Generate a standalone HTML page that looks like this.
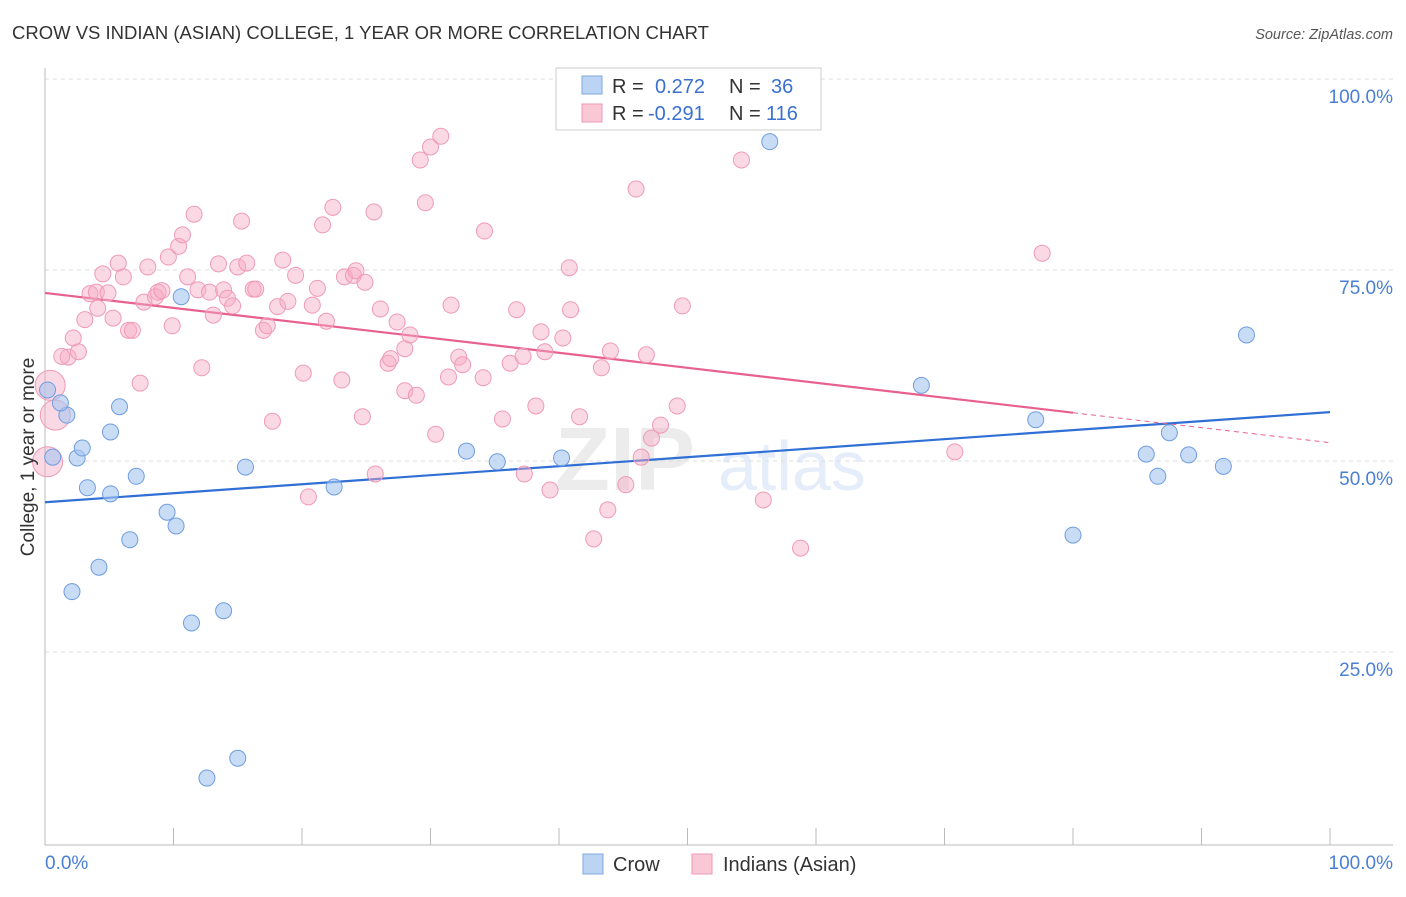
<!DOCTYPE html>
<html><head><meta charset="utf-8"><style>
body{margin:0;background:#fff;font-family:"Liberation Sans",sans-serif;}
svg text{font-family:"Liberation Sans",sans-serif;}
</style></head><body>
<svg id="chart" width="1406" height="892" xmlns="http://www.w3.org/2000/svg">
<text x="12" y="39" font-size="18.5" fill="#333">CROW VS INDIAN (ASIAN) COLLEGE, 1 YEAR OR MORE CORRELATION CHART</text>
<text x="1393" y="39" font-size="14.5" fill="#555" font-style="italic" text-anchor="end">Source: ZipAtlas.com</text>
<g opacity="0.13">
<text x="555" y="490" font-size="90" fill="#777" font-family="Liberation Serif" font-weight="bold">ZIP</text>
<text x="718" y="490" font-size="70" fill="#3a7bd5">atlas</text>
</g>
<g id="grid"></g>
<g id="axes"></g>
<g id="trends"></g>
<g id="pts"></g>
<text transform="translate(34,457) rotate(-90)" font-size="19" fill="#333" text-anchor="middle">College, 1 year or more</text>
<text x="45" y="869" font-size="19" fill="#4a7fd4">0.0%</text>
<text x="1393" y="869" font-size="19" fill="#4a7fd4" text-anchor="end">100.0%</text>
<g>
<rect x="556" y="68" width="265" height="62" fill="#fff" stroke="#ccc"/>
<rect x="582" y="76" width="20" height="18" fill="#bcd4f4" stroke="#7fa8e0"/>
<rect x="582" y="104" width="20" height="18" fill="#f9c7d6" stroke="#ee9ab4"/>
<text x="612" y="93" font-size="20" fill="#333">R =</text>
<text x="655" y="93" font-size="20" fill="#3a70d0">0.272</text>
<text x="729" y="93" font-size="20" fill="#333">N =</text>
<text x="771" y="93" font-size="20" fill="#3a70d0">36</text>
<text x="612" y="120" font-size="20" fill="#333">R =</text>
<text x="648" y="120" font-size="20" fill="#3a70d0">-0.291</text>
<text x="729" y="120" font-size="20" fill="#333">N =</text>
<text x="766" y="120" font-size="20" fill="#3a70d0">116</text>
</g>
<g>
<rect x="583" y="854" width="20" height="20" fill="#bcd4f4" stroke="#7fa8e0"/>
<text x="613" y="871" font-size="20" fill="#333">Crow</text>
<rect x="692" y="854" width="20" height="20" fill="#f9c7d6" stroke="#ee9ab4"/>
<text x="723" y="871" font-size="20" fill="#333">Indians (Asian)</text>
</g>
</svg>
<script>
const yTicks=[25,50,75,100];
const yTickLabels=["25.0%","50.0%","75.0%","100.0%"];
const xTicks=[0,10,20,30,40,50,60,70,80,90,100];
const crowX=[0.2,1.7,0.6,2.5,2.9,3.3,5.1,5.1,5.8,7.1,6.6,4.2,2.1,9.5,10.2,10.6,11.4,13.9,12.6,15.0,15.6,22.5,32.8,35.2,40.2,56.4,68.2,77.1,80.0,85.7,86.6,87.5,89.0,91.7,93.5,1.2];
const crowY=[59.3,56.0,50.5,50.4,51.7,46.5,45.7,53.8,57.1,48.0,39.7,36.1,32.9,43.3,41.5,71.5,28.8,30.4,8.5,11.1,49.2,46.6,51.3,49.9,50.4,91.8,59.9,55.4,40.3,50.9,48.0,53.7,50.8,49.3,66.5,57.6];
const indX=[0.4,0.8,0.2,1.8,2.2,2.6,1.3,3.1,4.1,4.5,3.5,4.0,4.9,5.3,5.7,6.1,6.5,6.8,7.4,7.7,8.0,8.6,8.8,9.1,9.9,10.4,10.7,9.6,11.1,11.6,11.9,12.2,12.8,13.1,13.5,13.9,14.2,14.6,15.0,15.3,15.7,16.2,16.4,17.0,17.3,17.7,18.1,18.5,18.9,19.5,20.1,20.5,20.8,21.2,21.6,21.9,22.4,23.1,23.3,24.0,24.2,24.9,24.7,25.6,25.7,26.1,26.7,26.9,27.4,28.0,28.0,28.4,28.9,29.2,29.6,30.0,30.4,30.8,31.4,31.6,32.2,32.5,34.2,34.1,35.6,36.2,36.7,37.2,37.3,38.2,38.6,38.9,39.3,40.3,40.8,40.9,41.6,42.7,43.3,43.8,44.0,45.2,46.0,46.4,46.8,47.2,47.9,49.2,49.6,54.2,55.9,58.8,70.8,77.6];
const indY=[59.9,56.0,49.9,63.6,66.1,64.3,63.7,68.5,70.0,74.5,71.9,72.1,72.0,68.7,75.9,74.1,67.1,67.1,60.2,70.8,75.4,71.5,72.1,72.3,67.7,78.1,79.6,76.7,74.1,82.3,72.4,62.2,72.1,69.1,75.8,72.4,71.3,70.3,75.4,81.4,75.9,72.5,72.5,67.1,67.7,55.2,70.2,76.3,70.9,74.3,61.5,45.3,70.4,72.6,80.9,68.3,83.2,60.6,74.1,74.3,74.9,73.4,55.8,82.6,48.3,69.9,62.8,63.4,68.2,64.7,59.2,66.5,58.6,89.4,83.8,91.1,53.5,92.5,61.0,70.4,63.6,62.6,80.1,60.9,55.5,62.8,69.8,63.7,48.3,57.2,66.9,64.3,46.2,66.1,75.3,69.8,55.8,39.8,62.2,43.6,64.4,46.9,85.6,50.5,63.9,53.0,54.7,57.2,70.3,89.4,44.9,38.6,51.2,77.2];
const indLarge=[0,1,2];
const crowTrend=[44.6,56.4];
const indTrend=[72.0,52.4];
const indSolidEnd=80;

const X=v=>45+v*12.85, Y=v=>843-v*7.64;
const NS="http://www.w3.org/2000/svg";
function mk(t,a,p){const e=document.createElementNS(NS,t);for(const k in a)e.setAttribute(k,a[k]);p.appendChild(e);return e;}
const grid=document.getElementById('grid'),axes=document.getElementById('axes'),tr=document.getElementById('trends'),pts=document.getElementById('pts');
yTicks.forEach((t,i)=>{
 const l=mk('line',{x1:45,x2:1393,y1:Y(t),y2:Y(t),stroke:'#ddd','stroke-dasharray':'4,4'},grid);
 
 
 const tx=mk('text',{x:1393,y:Y(t)+24,'font-size':19,fill:'#4a7fd4','text-anchor':'end'},grid);
 tx.textContent=yTickLabels[i];
 
 
});
const ya=mk('line',{x1:45,x2:45,y1:68,y2:845,stroke:'#bbb'},axes);


const xa=mk('line',{x1:45,x2:1393,y1:845,y2:845,stroke:'#bbb'},axes);


xTicks.forEach(t=>{
 const l=mk('line',{x1:X(t),x2:X(t),y1:828,y2:845,stroke:'#bbb'},axes);
 
 
});
const ct=mk('line',{x1:X(0),y1:Y(crowTrend[0]),x2:X(100),y2:Y(crowTrend[1]),stroke:'#2f6fd6','stroke-width':2.2},tr);


const yAt=x=>indTrend[0]+(indTrend[1]-indTrend[0])*x/100;
const it=mk('line',{x1:X(0),y1:Y(indTrend[0]),x2:X(indSolidEnd),y2:Y(yAt(indSolidEnd)),stroke:'#e8608f','stroke-width':2.2},tr);


const id=mk('line',{x1:X(indSolidEnd),y1:Y(yAt(indSolidEnd)),x2:X(100),y2:Y(indTrend[1]),stroke:'#e8608f','stroke-width':1,'stroke-dasharray':'5,4'},tr);


indX.forEach((v,i)=>{
 const r=indLarge.includes(i)?15:8;
 const c=mk('circle',{cx:X(v),cy:Y(indY[i]),r:r,fill:'rgba(246,170,195,0.45)',stroke:'#ef9ab6','stroke-width':1},pts);
 
 
});
crowX.forEach((v,i)=>{
 const c=mk('circle',{cx:X(v),cy:Y(crowY[i]),r:8,fill:'rgba(165,196,240,0.6)',stroke:'#6f9ddf','stroke-width':1},pts);
 
 
});
</script>
</body></html>
